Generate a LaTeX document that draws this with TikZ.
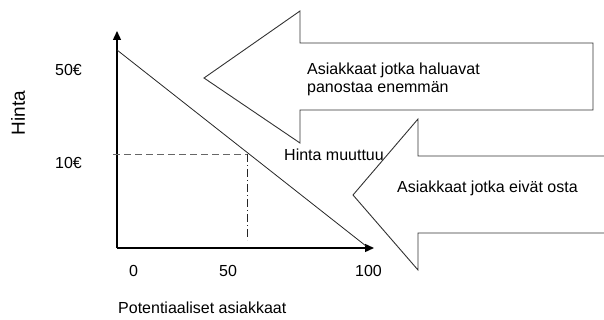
\documentclass[tikz,border=0pt]{standalone}
\usepackage{fontspec}
\setmainfont{Liberation Sans}
\usetikzlibrary{arrows.meta}
\begin{document}
\begin{tikzpicture}[x=1pt,y=-1pt,
  lbl/.style={font=\fontsize{16}{18}\selectfont, inner sep=0pt, anchor=base west},
  axisline/.style={line width=1.4pt, -{Triangle[length=9pt,width=8pt]}},
  bigarrow/.style={line width=0.9pt, draw=black!80, line join=miter},
  thinline/.style={line width=0.8pt, draw=black!85},
  ]
\useasboundingbox (0,0) rectangle (604,320);
% axes
\coordinate (O) at (117,248);
\coordinate (ytip) at (117,31);
\coordinate (xtip) at (374,248);
\draw[axisline] (O) -- (ytip);
\draw[axisline] (O) -- (xtip);
% demand line
\coordinate (d1) at (117,50);
\coordinate (d2) at (366,246);
\draw[thinline] (d1) -- (d2);
% guide lines
\coordinate (h1) at (113,154);
\coordinate (h2) at (247,154);
\coordinate (v2) at (247,240);
\draw[black!60, line width=0.9pt, dash pattern=on 7pt off 4pt] (h1) -- (h2);
\draw[black!85, line width=0.7pt, dash pattern=on 8pt off 3pt on 1pt off 3pt] (h2) -- (v2);
% big arrow 1
\draw[bigarrow] (204,78) -- (300,11) -- (300,43) -- (593,43) -- (593,110) -- (300,110) -- (300,143) -- cycle;
% big arrow 2
\draw[bigarrow] (604,156) -- (418,156) -- (418,119) -- (353,195) -- (418,270) -- (418,233) -- (604,233);
% labels
\node[lbl] (p50) at (55,76) {50€};
\node[lbl] (p10) at (55,169) {10€};
\node[font=\fontsize{19}{21}\selectfont, inner sep=0pt, rotate=90] (hinta) at (18,113) {Hinta};
\node[lbl] (x0) at (129,276) {0};
\node[lbl] (x50) at (219,276) {50};
\node[lbl] (x100) at (355,276) {100};
\node[lbl] (xl) at (118,313) {Potentiaaliset asiakkaat};
\node[lbl, align=left] (t1) at (307,75) {Asiakkaat jotka haluavat};
\node[lbl] (t1b) at (307,93) {panostaa enemmän};
\node[lbl] (t2) at (397,193) {Asiakkaat jotka eivät osta};
\node[lbl] (t3) at (284,161) {Hinta muuttuu};
\end{tikzpicture}
\end{document}
